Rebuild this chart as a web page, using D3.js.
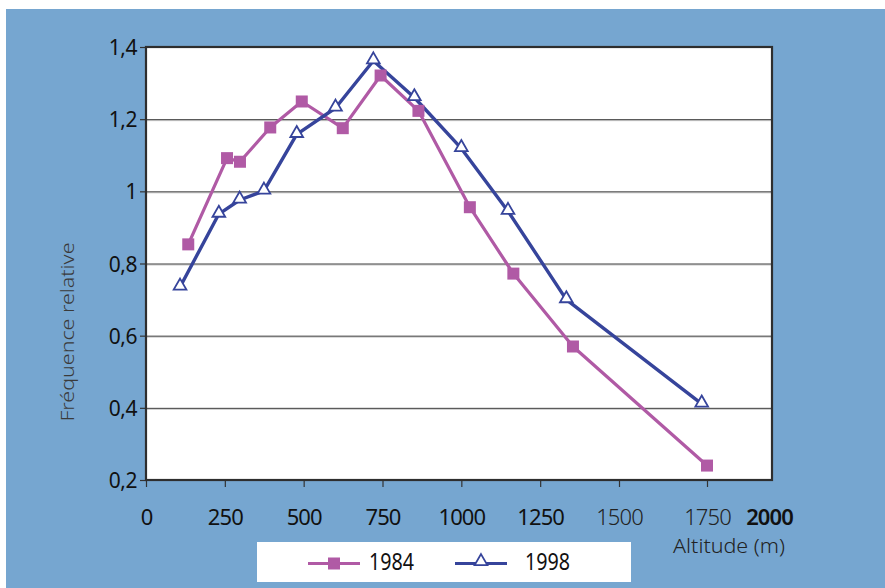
<!DOCTYPE html>
<html>
<head>
<meta charset="utf-8">
<script src="https://cdn.jsdelivr.net/npm/d3@7"></script>
<style>
  html, body { margin: 0; padding: 0; background: #ffffff; }
  svg { display: block; }
</style>
</head>
<body>
<svg id="chart" width="885" height="588"></svg>
<script>
// ---- data ----
const alt1984  = [134, 257, 298, 394, 494, 624, 744, 864, 1027, 1165, 1354, 1750];
const freq1984 = [0.853, 1.092, 1.082, 1.177, 1.249, 1.175, 1.321, 1.223, 0.956, 0.772, 0.570, 0.240];
const alt1998  = [108, 231, 297, 374, 478, 601, 721, 851, 1000, 1148, 1333, 1735];
const freq1998 = [0.735, 0.937, 0.976, 1.001, 1.158, 1.231, 1.362, 1.260, 1.119, 0.945, 0.700, 0.411];
const xTicks = [0, 250, 500, 750, 1000, 1250, 1500, 1750, 2000];
const yTicks = [0.2, 0.4, 0.6, 0.8, 1, 1.2, 1.4];
const seriesNames = ["1984", "1998"];
const xTitle = "Altitude (m)";
const yTitle = "Fréquence relative";

const svg = d3.select("#chart");
const W = 885, H = 588;
const bg = "#76a6d0";
const c1984 = "#b05aa5";
const c1998 = "#36449b";

// background panel
svg.append("rect").attr("x", 6).attr("y", 9).attr("width", W - 6).attr("height", H - 9).attr("fill", bg);

const L = 146, R = 772, T = 47, B = 480;
// the original axis places 1750 and 2000 unevenly; reproduce with a polylinear scale
const x = d3.scaleLinear().domain([0, 1500, 1750, 2000]).range([L, 619, 707, R]);
const y = d3.scaleLinear().domain([0.2, 1.4]).range([B, T]);

// plot area
svg.append("rect").attr("x", L).attr("y", T).attr("width", R - L).attr("height", B - T).attr("fill", "#ffffff");

// grid lines
const grid = svg.append("g");
const inner = yTicks.filter(d => d > 0.2 && d < 1.4);
grid.selectAll("line.g2").data(inner).join("line")
  .attr("x1", L).attr("x2", R).attr("y1", d => y(d) + 1.5).attr("y2", d => y(d) + 1.5)
  .attr("stroke", "#c8c8c8").attr("stroke-width", 1);
grid.selectAll("line.g").data(inner).join("line")
  .attr("x1", L).attr("x2", R).attr("y1", d => y(d) + 0.5).attr("y2", d => y(d) + 0.5)
  .attr("stroke", "#3c3c3c").attr("stroke-width", 1);

// y axis ticks + labels
const fmt = d => String(d).replace(".", ",");
const yAxis = d3.axisLeft(y).tickValues(yTicks).tickSize(6).tickPadding(3).tickFormat(fmt);
const gy = svg.append("g").attr("transform", `translate(${L},0)`).call(yAxis);
gy.select(".domain").remove();
gy.selectAll(".tick line").attr("stroke", "#333").attr("stroke-width", 1.2);
gy.selectAll(".tick text")
  .attr("font-family", "'Noto Sans', 'Open Sans', sans-serif")
  .attr("font-size", 21).attr("fill", "#111").attr("dy", "0.36em").attr("x", -9)
  .attr("letter-spacing", -0.5);

// x axis ticks + labels
const xAxis = d3.axisBottom(x).tickValues(xTicks).tickSize(7).tickPadding(14).tickFormat(d => String(d));
const gx = svg.append("g").attr("transform", `translate(0,${B})`).call(xAxis);
gx.select(".domain").remove();
gx.selectAll(".tick line").attr("stroke", "#333").attr("stroke-width", 1.2)
  .attr("display", d => d === 2000 ? "none" : null);
gx.selectAll(".tick text")
  .attr("font-family", "'Noto Sans', 'Open Sans', sans-serif")
  .attr("font-size", 22)
  .attr("y", 45).attr("dy", 0)
  .attr("fill", d => (d === 1500 || d === 1750) ? "#222" : "#111")
  .attr("font-weight", d => d === 2000 ? 600 : (d === 1500 || d === 1750) ? 300 : 400)
  .attr("letter-spacing", -0.9)
  .attr("x", d => d === 2000 ? -3 : 0);

// plot border
svg.append("rect").attr("x", L).attr("y", T).attr("width", R - L).attr("height", B - T)
  .attr("fill", "none").attr("stroke", "#2e2e2e").attr("stroke-width", 2.2);

// lines
const d1984 = alt1984.map((a, i) => [a, freq1984[i]]);
const d1998 = alt1998.map((a, i) => [a, freq1998[i]]);
const line = d3.line().x(d => x(d[0])).y(d => y(d[1]));

svg.append("path").datum(d1984).attr("d", line).attr("fill", "none")
  .attr("stroke", c1984).attr("stroke-width", 3.2).attr("stroke-linejoin", "round");
svg.append("path").datum(d1998).attr("d", line).attr("fill", "none")
  .attr("stroke", c1998).attr("stroke-width", 3.4).attr("stroke-linejoin", "round");

// markers
const sq = 12;
svg.append("g").selectAll("rect").data(d1984).join("rect")
  .attr("x", d => x(d[0]) - sq / 2).attr("y", d => y(d[1]) - sq / 2)
  .attr("width", sq).attr("height", sq).attr("fill", c1984);

const tri = d3.symbol().type(d3.symbolTriangle).size(70);
svg.append("g").selectAll("path").data(d1998).join("path")
  .attr("transform", d => `translate(${x(d[0])},${y(d[1]) - 1})`)
  .attr("d", tri).attr("fill", "#ffffff").attr("stroke", c1998).attr("stroke-width", 1.8);

// axis titles
svg.append("text").attr("transform", "translate(74,332) rotate(-90)")
  .attr("text-anchor", "middle")
  .attr("font-family", "'Noto Sans', sans-serif").attr("font-weight", 300)
  .attr("font-size", 19).attr("fill", "#3a3a3a")
  .attr("textLength", 179).attr("lengthAdjust", "spacingAndGlyphs")
  .text(yTitle);

svg.append("text").attr("x", 673).attr("y", 553)
  .attr("font-family", "'Noto Sans', sans-serif").attr("font-weight", 300)
  .attr("font-size", 20).attr("fill", "#222")
  .attr("textLength", 112).attr("lengthAdjust", "spacingAndGlyphs")
  .text(xTitle);

// legend
const lg = svg.append("g");
lg.append("rect").attr("x", 257).attr("y", 542).attr("width", 374).attr("height", 40).attr("fill", "#ffffff");
const legendItems = [
  { name: seriesNames[0], color: c1984, x0: 308, tx: 369, marker: "square" },
  { name: seriesNames[1], color: c1998, x0: 455, tx: 525, marker: "triangle" }
];
const ly = 563.5;
legendItems.forEach(it => {
  lg.append("line").attr("x1", it.x0).attr("x2", it.x0 + 52).attr("y1", ly).attr("y2", ly)
    .attr("stroke", it.color).attr("stroke-width", 3.2);
  if (it.marker === "square") {
    lg.append("rect").attr("x", it.x0 + 26 - sq / 2).attr("y", ly - sq / 2)
      .attr("width", sq).attr("height", sq).attr("fill", it.color);
  } else {
    lg.append("path").attr("transform", `translate(${it.x0 + 26},${ly - 2})`)
      .attr("d", tri).attr("fill", "#fff").attr("stroke", it.color).attr("stroke-width", 1.8);
  }
  lg.append("text").attr("x", it.tx).attr("y", 570)
    .attr("font-family", "'Noto Sans', sans-serif")
    .attr("font-size", 24).attr("fill", "#111")
    .attr("textLength", 45).attr("lengthAdjust", "spacingAndGlyphs")
    .text(it.name);
});
</script>
</body>
</html>
